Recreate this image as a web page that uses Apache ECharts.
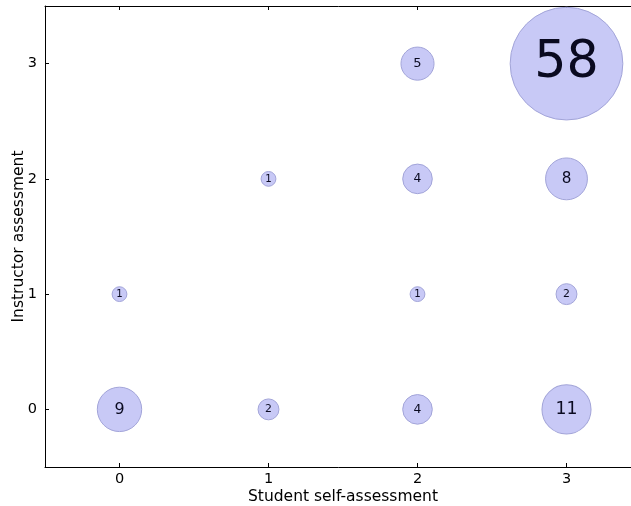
<!DOCTYPE html>
<html>
<head>
<meta charset="utf-8">
<script src="https://cdn.jsdelivr.net/npm/echarts@6/dist/echarts.min.js"></script>
<style>html,body{margin:0;padding:0;background:#fff;overflow:hidden}#c{width:631px;height:506px}</style>
</head>
<body>
<div id="c"></div>
<script>
// Data
var xs     = [0, 1, 2, 3, 0, 2, 3, 1, 2, 3, 2, 3];
var ys     = [0, 0, 0, 0, 1, 1, 1, 2, 2, 2, 3, 3];
var counts = [9, 2, 4, 11, 1, 1, 2, 1, 4, 8, 5, 58];
var xTicks = [0, 1, 2, 3];
var yTicks = [0, 1, 2, 3];
var xTitle = 'Student self-assessment';
var yTitle = 'Instructor assessment';

var points = xs.map(function (x, i) { return [x, ys[i], counts[i]]; });
var FONT = 'DejaVu Sans';

var chart = echarts.init(document.getElementById('c'), null, {renderer: 'canvas'});
var axisBase = {
  type: 'value', min: -0.5, max: 3.5,
  splitLine: {show: false},
  axisLine: {show: true, onZero: false, lineStyle: {color: '#000', width: 1}},
  axisTick: {show: true, inside: true, length: 4, lineStyle: {color: '#000'}},
  axisLabel: {color: '#000', fontFamily: FONT, fontSize: 15}
};
function mk(o){ return Object.assign(JSON.parse(JSON.stringify(axisBase)), o); }
chart.setOption({
  animation: false,
  grid: {left: 45, top: 6, width: 596, height: 461, containLabel: false, outerBoundsMode: 'none'},
  xAxis: [
    mk({position: 'bottom', name: xTitle, nameLocation: 'middle', nameGap: 22, nameMoveOverlap: false,
        nameTextStyle: {color: '#000', fontFamily: FONT, fontSize: 15.5},
        axisTick: {show: true, inside: true, length: 4, customValues: xTicks, lineStyle: {color: '#000'}},
        axisLabel: {color: '#000', fontFamily: FONT, fontSize: 14.5, margin: 5, customValues: xTicks}}),
    mk({position: 'top',
        axisTick: {show: true, inside: true, length: 4, customValues: xTicks, lineStyle: {color: '#000'}},
        axisLabel: {show: false}})
  ],
  yAxis: [
    mk({position: 'left', name: yTitle, nameLocation: 'middle', nameGap: 18, nameMoveOverlap: false,
        nameTextStyle: {color: '#000', fontFamily: FONT, fontSize: 15.5},
        axisTick: {show: true, inside: true, length: 4, customValues: yTicks, lineStyle: {color: '#000'}},
        axisLabel: {color: '#000', fontFamily: FONT, fontSize: 14.5, margin: 8, customValues: yTicks}})
  ],
  series: [{
    type: 'scatter',
    xAxisIndex: 0, yAxisIndex: 0,
    clip: false,
    data: points.map(function (p) {
      return {value: p, label: {fontSize: 9.5 + 0.71 * p[2]}};
    }),
    symbolSize: function (v) { return 14.8 * Math.sqrt(v[2]); },
    itemStyle: {color: '#c8c9f6', borderColor: '#a2a4d8', borderWidth: 1, opacity: 1},
    label: {
      show: true, position: 'inside', color: '#0a0a20', fontFamily: FONT,
      formatter: function (p) { return String(p.value[2]); }
    }
  }]
});
</script>
</body>
</html>
